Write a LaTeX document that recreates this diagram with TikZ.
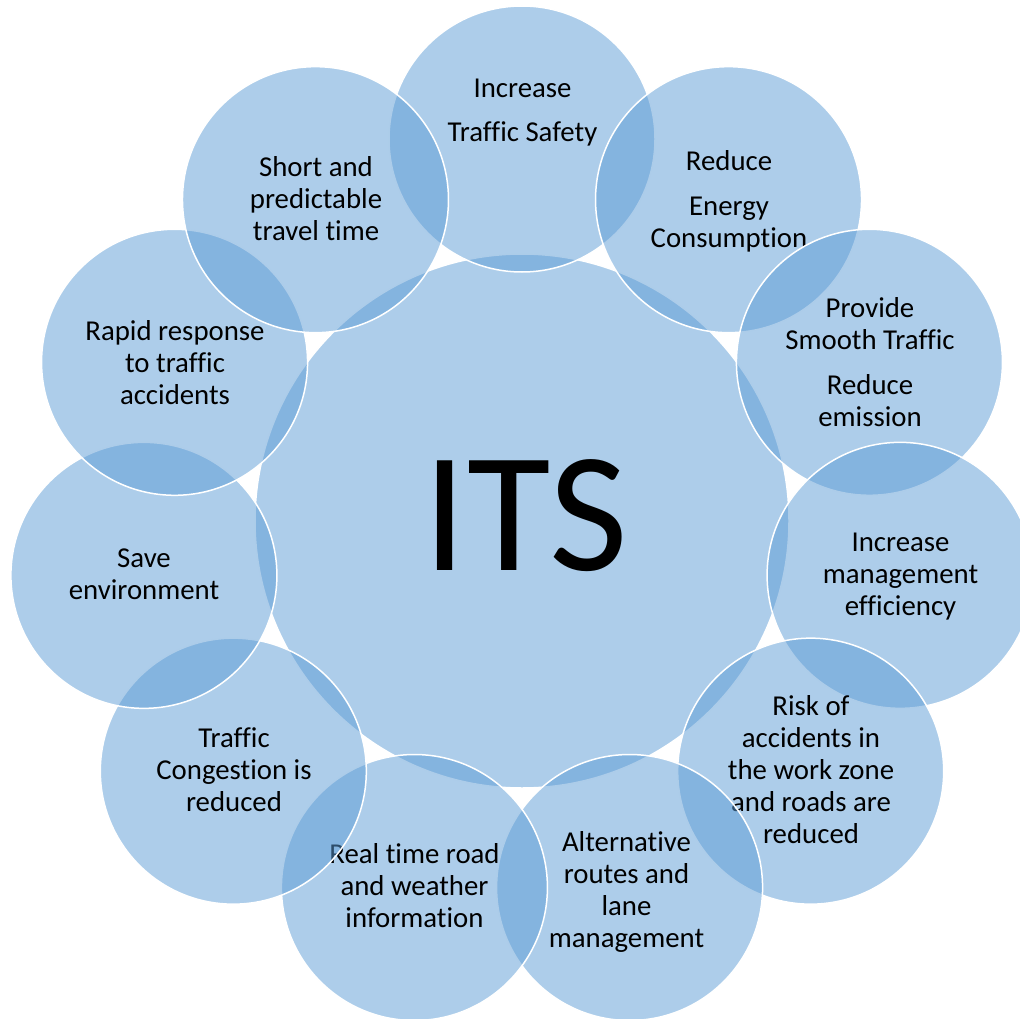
\documentclass[tikz,border=0pt]{standalone}
\usepackage{fontspec}
\setmainfont[Ligatures=NoCommon]{Carlito}
\definecolor{acc}{HTML}{5B9BD5}
\tikzset{
  bub/.style={circle, fill=acc, fill opacity=0.5, draw=white, line width=1.5pt, minimum size=266pt, inner sep=0pt},
  hub/.style={circle, fill=acc, fill opacity=0.5, draw=white, line width=1.5pt, minimum size=534pt, inner sep=0pt},
  lbl/.style={font=\fontsize{28.8}{32}\selectfont, align=center, inner sep=0pt, anchor=north, text=black},
}
\begin{document}
\begin{tikzpicture}[x=1pt,y=-1pt]
\useasboundingbox (0,0) rectangle (1020,1019);
\clip (0,0) rectangle (1020,1019);
\node[hub] (hub) at (522,521) {};
\node[font=\fontsize{171}{200}\selectfont, anchor=base, inner sep=0pt] (its) at (526,570) {ITS};
% surrounding circles, clockwise from top
\node[bub] (c1) at ({522+382*cos(90)},{521-382*sin(90)}) {};
\node[lbl] (t1) at (522.5,75.3) {\strut Increase\\[12pt]Traffic Safety};
\node[bub] (c2) at ({522+382*cos(57.27)},{521-382*sin(57.27)}) {};
\node[lbl] (t2) at (729,147.6) {\strut Reduce\\[13pt]Energy\\Consumption};
\node[bub] (c3) at ({522+382*cos(24.55)},{521-382*sin(24.55)}) {};
\node[lbl] (t3) at (870,294.6) {\strut Provide\\Smooth Traffic\\[13pt]Reduce\\emission};
\node[bub] (c4) at ({522+382*cos(-8.18)},{521-382*sin(-8.18)}) {};
\node[lbl] (t4) at (900.5,529.3) {\strut Increase\\management\\efficiency};
\node[bub] (c5) at ({522+382*cos(-40.91)},{521-382*sin(-40.91)}) {};
\node[lbl] (t5) at (811,692.6) {\strut Risk of\\accidents in\\the work zone\\and roads are\\reduced};
\node[bub] (c6) at ({522+382*cos(-73.64)},{521-382*sin(-73.64)}) {};
\node[lbl] (t6) at (626.5,829.3) {\strut Alternative\\routes and\\lane\\management};
\node[bub] (c7) at ({522+382*cos(-106.36)},{521-382*sin(-106.36)}) {};
\node[lbl] (t7) at (414.5,840.9) {\strut Real time road\\and weather\\information};
\node[bub] (c8) at ({522+382*cos(-139.09)},{521-382*sin(-139.09)}) {};
\node[lbl] (t8) at (234,725.3) {\strut Traffic\\Congestion is\\reduced};
\node[bub] (c9) at ({522+382*cos(-171.82)},{521-382*sin(-171.82)}) {};
\node[lbl] (t9) at (144,544.6) {\strut Save\\environment};
\node[bub] (c10) at ({522+382*cos(155.45)},{521-382*sin(155.45)}) {};
\node[lbl] (t10) at (175,318.3) {\strut Rapid response\\to traffic\\accidents};
\node[bub] (c11) at ({522+382*cos(122.73)},{521-382*sin(122.73)}) {};
\node[lbl] (t11) at (316,153.6) {\strut Short and\\predictable\\travel time};
\end{tikzpicture}
\end{document}
